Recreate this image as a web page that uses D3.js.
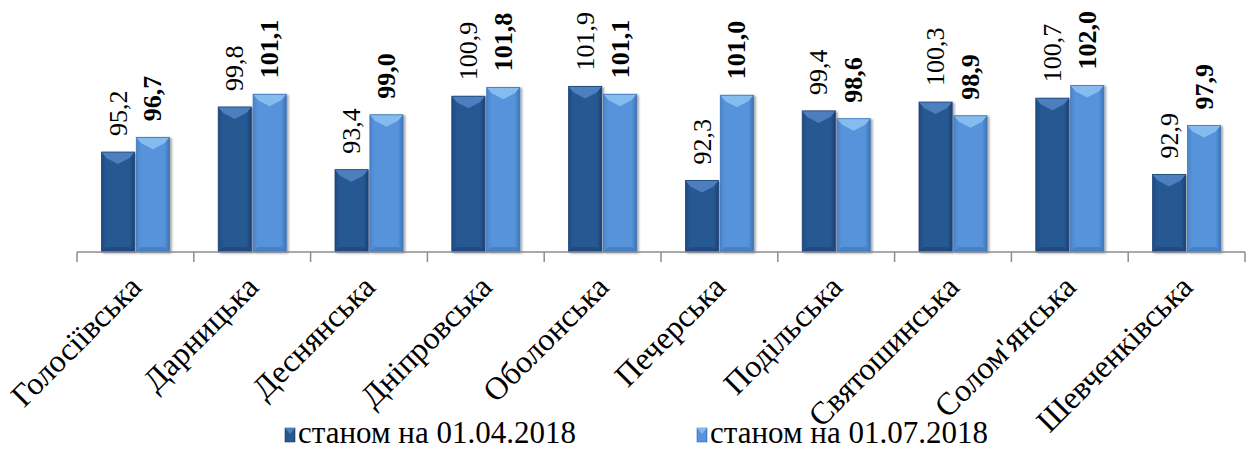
<!DOCTYPE html>
<html><head><meta charset="utf-8">
<script src="https://cdn.jsdelivr.net/npm/d3@7"></script>
<style>
html,body{margin:0;padding:0;background:#fff;}
svg{display:block;}
</style></head>
<body><svg id="c" width="1251" height="450"></svg>
<script>
const categories = ["Голосіївська","Дарницька","Деснянська","Дніпровська","Оболонська","Печерська","Подільська","Святошинська","Солом'янська","Шевченківська"];
const seriesNames = ["станом на 01.04.2018","станом на 01.07.2018"];
const apr = [95.2, 99.8, 93.4, 100.9, 101.9, 92.3, 99.4, 100.3, 100.7, 92.9];
const jul = [96.7, 101.1, 99.0, 101.8, 101.1, 101.0, 98.6, 98.9, 102.0, 97.9];
const yDomain = [85, 105];
const FONT = "Liberation Serif";

const svg = d3.select("#c");
const defs = svg.append("defs");
const x0 = d3.scaleBand().domain(categories).range([77, 1245]).padding(0);
const bw0 = x0.bandwidth();
const x1 = d3.scaleBand().domain([0,1]).range([bw0/2-34, bw0/2+34]).paddingInner(0.05);
const y = d3.scaleLinear().domain(yDomain).range([252, 56]);

const pal = [
  {base:"#285892", dark:"#1b4176", light:"#4d7fbf", left:"#1f4a82"},
  {base:"#5693da", dark:"#3c74b8", light:"#86bbf0", left:"#4b86cc"}
];
pal.forEach((p,i)=>{
  const g = defs.append("linearGradient").attr("id","g"+i).attr("x1",0).attr("x2",1).attr("y1",0).attr("y2",0);
  g.append("stop").attr("offset","0%").attr("stop-color",p.left);
  g.append("stop").attr("offset","15%").attr("stop-color",p.base);
  g.append("stop").attr("offset","85%").attr("stop-color",p.base);
  g.append("stop").attr("offset","100%").attr("stop-color",p.dark);
});
const f = defs.append("filter").attr("id","sh").attr("x","-20%").attr("y","-20%").attr("width","150%").attr("height","150%");
f.append("feDropShadow").attr("dx",2).attr("dy",1).attr("stdDeviation",1.2).attr("flood-color","#000").attr("flood-opacity",0.35);

const data = categories.map((c,i)=>({cat:c, vals:[apr[i], jul[i]]}));
const groups = svg.append("g").selectAll("g").data(data).join("g")
  .attr("transform", d=>`translate(${x0(d.cat)},0)`);

groups.each(function(d){
  const g = d3.select(this);
  d.vals.forEach((v,s)=>{
    const bx = x1(s), w = x1.bandwidth(), top = y(v), bot = y(yDomain[0]), p = pal[s];
    const bg = g.append("g").attr("filter","url(#sh)");
    bg.append("rect").attr("x",bx).attr("y",top).attr("width",w).attr("height",bot-top).attr("fill",`url(#g${s})`);
    bg.append("polygon").attr("points",[[bx,top],[bx+w,top],[bx+w-5,top+6],[bx+w/2,top+12],[bx+5,top+6]].map(a=>a.join(",")).join(" "))
      .attr("fill",p.light);
    bg.append("polygon").attr("points",[[bx,bot],[bx+w,bot],[bx+w-5,bot-5],[bx+5,bot-5]].map(a=>a.join(",")).join(" "))
      .attr("fill",p.dark).attr("opacity",0.6);
    bg.append("rect").attr("x",bx).attr("y",top).attr("width",w).attr("height",bot-top).attr("fill","none").attr("stroke",p.dark).attr("stroke-width",0.8);
    g.append("text")
      .attr("transform",`translate(${bx+w/2},${top-16}) rotate(-90)`)
      .attr("dy","0.33em")
      .attr("font-family",FONT)
      .attr("font-size",26)
      .attr("font-weight", s===1 ? "bold" : "normal")
      .attr("fill","#000")
      .text(d3.format(".1f")(v).replace(".",","));
  });
});

const axis = svg.append("g");
axis.append("line").attr("x1",77).attr("x2",1245).attr("y1",252).attr("y2",252).attr("stroke","#8c8c8c").attr("stroke-width",1.5);
const ticks = categories.map(c=>x0(c)).concat([x0.range()[1]]);
axis.selectAll("line.t").data(ticks).join("line").attr("class","t")
  .attr("x1",d=>d).attr("x2",d=>d).attr("y1",252).attr("y2",262).attr("stroke","#8c8c8c").attr("stroke-width",1.5);
axis.selectAll("text").data(categories).join("text")
  .attr("transform",d=>`translate(${x0(d)+bw0/2+8},289) rotate(-45)`)
  .attr("text-anchor","end").attr("font-family",FONT).attr("font-size",32).attr("fill","#000").text(d=>d);

const leg = svg.append("g");
const legX = [285, 697];
seriesNames.forEach((n,i)=>{
  leg.append("rect").attr("x",legX[i]).attr("y",428).attr("width",10).attr("height",14).attr("fill",`url(#g${i})`).attr("stroke",pal[i].dark).attr("stroke-width",0.6);
  leg.append("polygon").attr("points",[[legX[i],428],[legX[i]+10,428],[legX[i]+5,434]].map(a=>a.join(",")).join(" ")).attr("fill",pal[i].light);
  leg.append("text").attr("x",legX[i]+13).attr("y",443).attr("font-family",FONT).attr("font-size",31).text(n);
});
</script></body></html>
